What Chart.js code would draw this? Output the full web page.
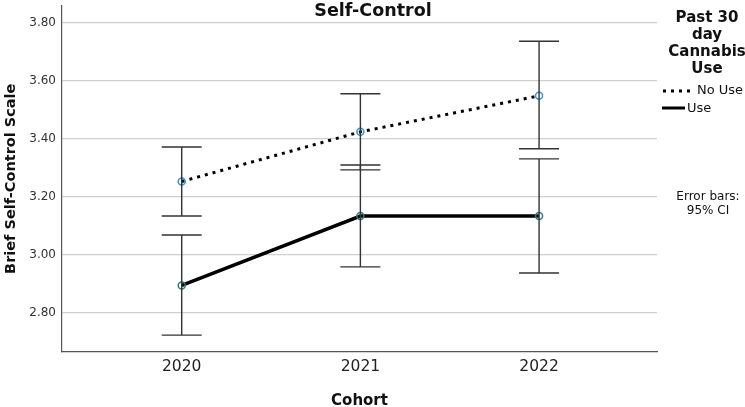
<!DOCTYPE html>
<html><head><meta charset="utf-8">
<script src="https://cdn.jsdelivr.net/npm/chart.js@4"></script>
<style>html,body{margin:0;padding:0;background:#fff}#wrap{width:745px;height:407px}</style>
</head><body><div id="wrap"><canvas id="c"></canvas></div>
<script>
const cohorts = [2020, 2021, 2022];
const noUseMean = [3.253, 3.424, 3.548];
const noUseLow = [3.134, 3.293, 3.366];
const noUseHigh = [3.372, 3.555, 3.736];
const useMean = [2.895, 3.134, 3.134];
const useLow = [2.724, 2.959, 2.938];
const useHigh = [3.069, 3.310, 3.331];
const yTicks = [2.8, 3.0, 3.2, 3.4, 3.6, 3.8];
const titleText = 'Self-Control';
const legendTitle = ['Past 30', 'day', 'Cannabis', 'Use'];
const seriesNames = ['No Use', 'Use'];
const noteText = ['Error bars:', '95% CI'];

const FONT = "'DejaVu Sans', sans-serif";

const errorBars = {
  id: 'errorBars',
  afterDatasetsDraw(chart) {
    const ctx = chart.ctx, xs = chart.scales.x, ys = chart.scales.y;
    const sets = [[noUseLow, noUseHigh], [useLow, useHigh]];
    ctx.save();
    ctx.strokeStyle = '#333';
    ctx.lineWidth = 1.4;
    sets.forEach(([lo, hi]) => {
      cohorts.forEach((c, i) => {
        const x = xs.getPixelForValue(c);
        const y1 = ys.getPixelForValue(lo[i]);
        const y2 = ys.getPixelForValue(hi[i]);
        ctx.beginPath();
        ctx.moveTo(x, y1); ctx.lineTo(x, y2);
        ctx.moveTo(x - 20, y1); ctx.lineTo(x + 20, y1);
        ctx.moveTo(x - 20, y2); ctx.lineTo(x + 20, y2);
        ctx.stroke();
      });
    });
    ctx.restore();
  }
};

const extras = {
  id: 'extras',
  afterDraw(chart) {
    const ctx = chart.ctx;
    ctx.save();
    ctx.fillStyle = '#111';
    ctx.textAlign = 'center';
    ctx.textBaseline = 'middle';
    ctx.font = 'bold 17.5px ' + FONT;
    ctx.fillText(titleText, 373, 11);
    ctx.font = 'bold 15px ' + FONT;
    const lx = 707;
    [18, 35, 52, 69].forEach((y, i) => ctx.fillText(legendTitle[i], lx, y));
    ctx.strokeStyle = '#000';
    ctx.lineWidth = 3;
    ctx.setLineDash([3, 5]);
    ctx.beginPath(); ctx.moveTo(663, 91); ctx.lineTo(690, 91); ctx.stroke();
    ctx.setLineDash([]);
    ctx.beginPath(); ctx.moveTo(662, 108); ctx.lineTo(685, 108); ctx.stroke();
    ctx.font = '13px ' + FONT;
    ctx.textAlign = 'left';
    ctx.fillText(seriesNames[0], 697, 91);
    ctx.fillText(seriesNames[1], 687, 109);
    ctx.textAlign = 'center';
    ctx.font = '12px ' + FONT;
    ctx.fillText(noteText[0], 708, 197);
    ctx.fillText(noteText[1], 708, 211);
    ctx.restore();
  }
};

new Chart(document.getElementById('c'), {
  type: 'line',
  data: {
    datasets: [
      {
        label: seriesNames[0],
        data: cohorts.map((c, i) => ({x: c, y: noUseMean[i]})),
        borderColor: '#000', borderWidth: 3, borderDash: [3, 5],
        pointRadius: 3.5, pointBorderWidth: 1.5, pointBorderColor: '#3d93d6',
        pointBackgroundColor: 'rgba(0,0,0,0)', tension: 0
      },
      {
        label: seriesNames[1],
        data: cohorts.map((c, i) => ({x: c, y: useMean[i]})),
        borderColor: '#000', borderWidth: 3.5,
        pointRadius: 3.5, pointBorderWidth: 1.5, pointBorderColor: '#2f7a7a',
        pointBackgroundColor: 'rgba(0,0,0,0)', tension: 0
      }
    ]
  },
  options: {
    responsive: true, maintainAspectRatio: false, animation: false,
    layout: {padding: {top: 2, right: 88, left: 0, bottom: 0}},
    plugins: {legend: {display: false}, tooltip: {enabled: false}, title: {display: false}},
    scales: {
      x: {
        type: 'linear', min: 2019.33, max: 2022.66,
        afterBuildTicks: s => { s.ticks = cohorts.map(v => ({value: v})); },
        afterFit: s => { s.height = 55; s.paddingLeft = 0; s.paddingRight = 0; },
        grid: {display: false, drawTicks: false},
        border: {display: true, color: '#555', width: 1.2},
        ticks: {font: {family: FONT, size: 15.5}, color: '#222', padding: 6, callback: v => String(v)},
        title: {display: true, text: 'Cohort', font: {family: FONT, size: 15, weight: 'bold'}, color: '#111', padding: {top: 12, bottom: -3}}
      },
      y: {
        min: 2.666, max: 3.859,
        afterBuildTicks: s => { s.ticks = yTicks.map(v => ({value: v})); },
        afterFit: s => { s.width = 62; s.paddingTop = 0; s.paddingBottom = 0; },
        grid: {color: '#cfcfcf', lineWidth: 1.2, drawTicks: false},
        border: {display: true, color: '#555', width: 1.2},
        ticks: {font: {family: FONT, size: 12}, color: '#333', padding: 6, callback: v => v.toFixed(2)},
        title: {display: true, text: 'Brief Self-Control Scale', font: {family: FONT, size: 14.5, weight: 'bold'}, color: '#111', padding: {top: 3, bottom: 0}}
      }
    }
  },
  plugins: [errorBars, extras]
});
</script></body></html>
